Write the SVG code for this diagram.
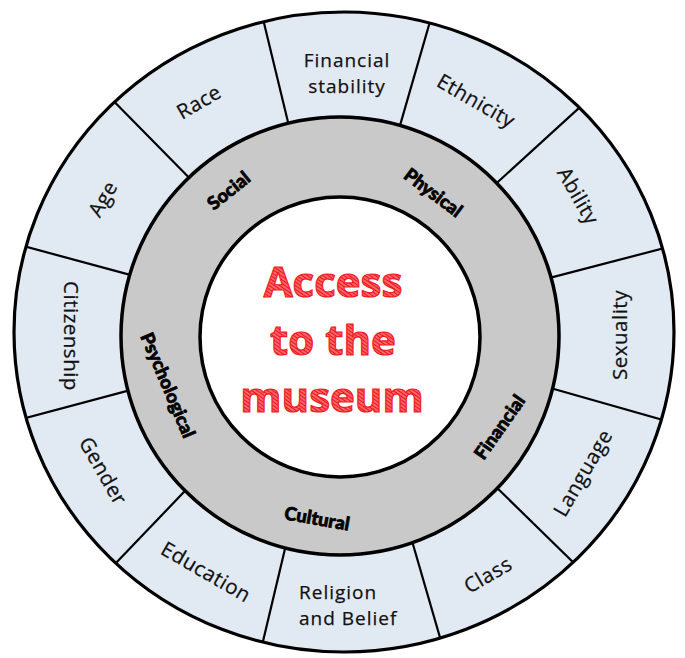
<svg xmlns="http://www.w3.org/2000/svg" width="685" height="658" viewBox="0 0 685 658">
<style>
.lbl{font-family:"Open Sans","Noto Sans","Liberation Sans",sans-serif;font-size:20.5px;font-weight:500;letter-spacing:0.5px;fill:#111;stroke:#111;stroke-width:0.25;text-anchor:middle}
.two{font-family:"Open Sans","Noto Sans","Liberation Sans",sans-serif;font-size:19px;font-weight:500;letter-spacing:1px;fill:#111;stroke:#111;stroke-width:0.25}
.ring{font-family:Lato,"Open Sans","Liberation Sans",sans-serif;font-weight:900;font-size:18.5px;fill:#000;stroke:#000;stroke-width:0.7;text-anchor:middle}
.title{font-family:"Open Sans","Noto Sans","Liberation Sans",sans-serif;font-weight:bold;font-size:42px;text-anchor:middle;fill:url(#hatch);stroke:#ee1c25;stroke-width:1.2}
.div{stroke:#000;stroke-width:2.2;fill:none}
</style>
<defs>
<pattern id="hatch" width="3" height="3" patternUnits="userSpaceOnUse" patternTransform="rotate(35)">
<rect width="3" height="3" fill="#ff7070"/>
<line x1="0" y1="1.5" x2="3" y2="1.5" stroke="#ec121c" stroke-width="1.2"/>
</pattern>
<clipPath id="outerClip"><ellipse cx="344" cy="332" rx="330" ry="320"/></clipPath>
</defs>
<g id="outer-ring">
<ellipse cx="344" cy="332" rx="330" ry="320" fill="#e1e9f3"/>
</g>
<g id="dividers" clip-path="url(#outerClip)">
<line class="div" x1="293.9" y1="146.5" x2="257.1" y2="-5.5"/>
<line class="div" x1="392.6" y1="151.1" x2="437.4" y2="-4.1"/>
<line class="div" x1="207.1" y1="196" x2="96.8" y2="84"/>
<line class="div" x1="157" y1="282.1" x2="-3" y2="238.9"/>
<line class="div" x1="476.3" y1="201.6" x2="602.7" y2="86.4"/>
<line class="div" x1="524.8" y1="284.4" x2="696.8" y2="239.6"/>
<line class="div" x1="529.3" y1="382" x2="698.4" y2="430"/>
<line class="div" x1="481.5" y1="472.7" x2="601.5" y2="590"/>
<line class="div" x1="406" y1="520.2" x2="451.6" y2="677.5"/>
<line class="div" x1="290.9" y1="524" x2="254.1" y2="678.7"/>
<line class="div" x1="204" y1="471.1" x2="92" y2="587.9"/>
<line class="div" x1="157.3" y1="382.9" x2="-4.3" y2="426.1"/>
</g>
<ellipse cx="344" cy="332" rx="330" ry="320" fill="none" stroke="#000" stroke-width="3.2"/>
<g id="access-ring">
<circle cx="340" cy="336" r="219" fill="#c9c9c9" stroke="#000" stroke-width="3.5"/>
</g>
<g id="center">
<circle cx="340" cy="337" r="140" fill="#fff" stroke="#000" stroke-width="3.5"/>
<text class="title" x="333" y="297">Access</text>
<text class="title" x="333" y="355">to the</text>
<text class="title" x="332" y="412">museum</text>
</g>
<g id="label-financial-stability"><text class="two" text-anchor="middle"><tspan x="347" y="67">Financial</tspan><tspan x="347" y="93">stability</tspan></text></g>
<g id="label-ethnicity"><text class="lbl" transform="translate(476,101) rotate(30)" y="7">Ethnicity</text></g>
<g id="label-ability"><text class="lbl" transform="translate(578,196) rotate(60)" y="7">Ability</text></g>
<g id="label-sexuality"><text class="lbl" transform="translate(620,335) rotate(-90)" y="7">Sexuality</text></g>
<g id="label-language"><text class="lbl" transform="translate(583,473) rotate(-60)" y="7">Language</text></g>
<g id="label-class"><text class="lbl" transform="translate(488,575) rotate(-30)" y="7">Class</text></g>
<g id="label-religion"><text class="two"><tspan x="299" y="599">Religion</tspan><tspan x="299" y="625">and Belief</tspan></text></g>
<g id="label-education"><text class="lbl" transform="translate(206,572) rotate(30)" y="7">Education</text></g>
<g id="label-gender"><text class="lbl" transform="translate(103,471) rotate(60)" y="7">Gender</text></g>
<g id="label-citizenship"><text class="lbl" transform="translate(71,336) rotate(90)" y="7">Citizenship</text></g>
<g id="label-age"><text class="lbl" transform="translate(103,199) rotate(-60)" y="7">Age</text></g>
<g id="label-race"><text class="lbl" transform="translate(199,102) rotate(-30)" y="7">Race</text></g>
<g id="ring-social"><text class="ring" transform="translate(229,191) rotate(-39)" y="6">Social</text></g>
<g id="ring-physical"><text class="ring" transform="translate(433,193) rotate(37)" y="6">Physical</text></g>
<g id="ring-financial"><text class="ring" transform="translate(500,427.5) rotate(-55)" y="6">Financial</text></g>
<g id="ring-cultural"><text class="ring" transform="translate(317,519) rotate(10)" y="6">Cultural</text></g>
<g id="ring-psychological"><text class="ring" transform="translate(167.5,385.5) rotate(67)" y="6">Psychological</text></g>
</svg>
